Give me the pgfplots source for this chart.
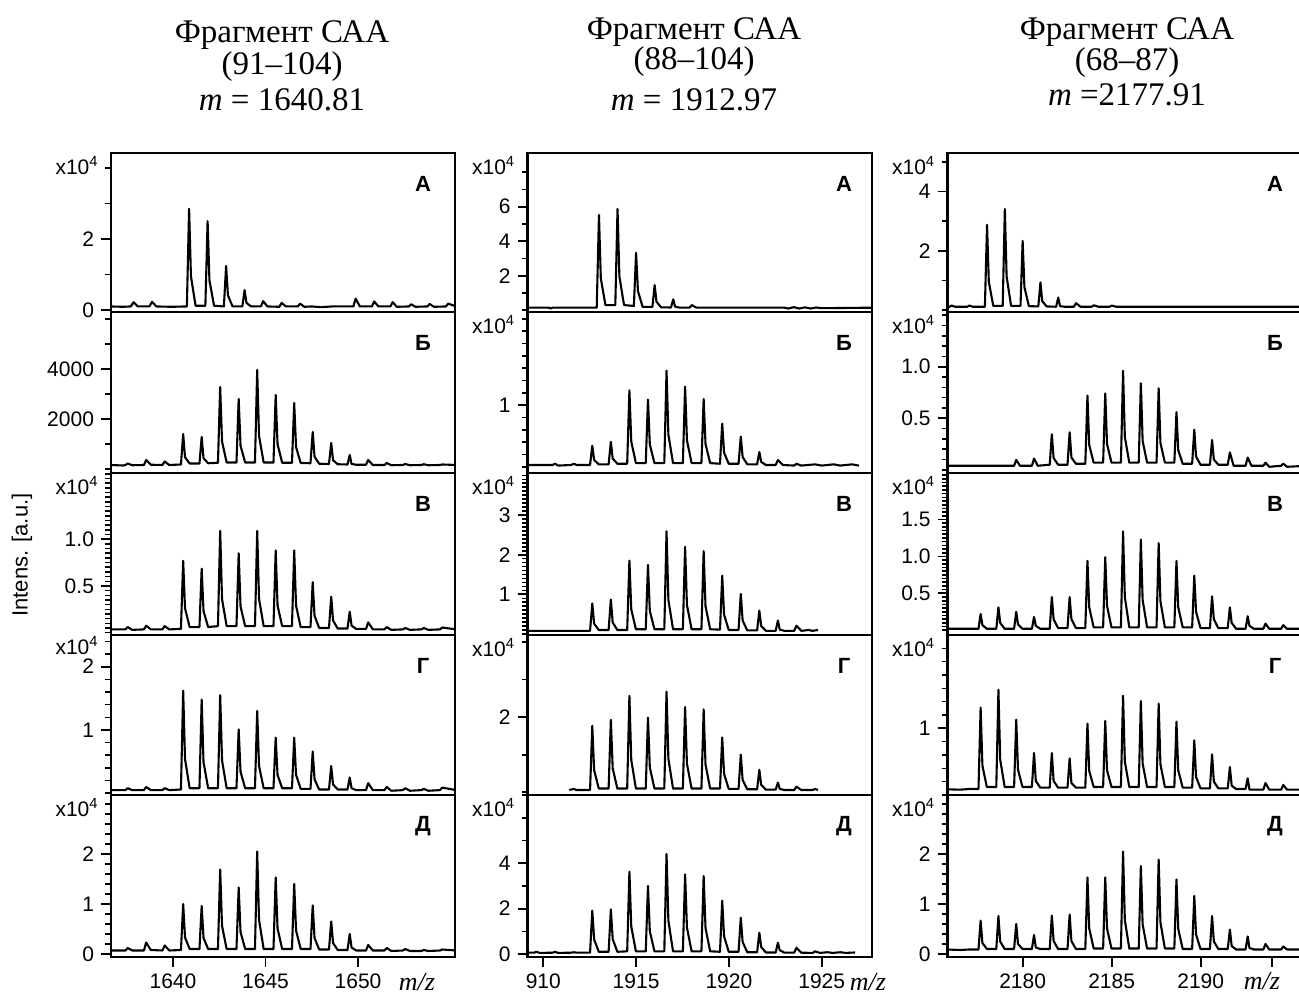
\documentclass[border=0pt]{standalone}
\usepackage{fontspec}
\setmainfont{Liberation Sans}
\newfontfamily\serif{Liberation Serif}
\usepackage{pgfplots}
\pgfplotsset{compat=1.18}
\newcommand\tickfont{\fontsize{10.5}{12}\selectfont}
\newcommand\letfont{\fontsize{11}{12}\selectfont\bfseries}
\newcommand\titlefont{\serif\fontsize{16.5}{18}\selectfont}
\tikzset{
  xpow/.style={anchor=east, xshift=-6pt, yshift=-6.5pt, font=\tickfont, inner sep=0pt},
  lett/.style={yshift=-15.5pt, font=\letfont, inner sep=0pt},
}
\pgfplotsset{
  spec/.style={
    scale only axis, scaled ticks=false,
    tick align=outside, tick pos=left,
    xtick=\empty,
    major tick length=5pt, minor tick length=2.8pt,
    every major tick/.append style={line width=0.9pt, black},
    every minor tick/.append style={line width=0.8pt, black},
    axis line style={line width=1.2pt},
    ticklabel style={font=\tickfont},
    clip mode=individual,
    no markers,
    every axis plot post/.append style={line width=1.05pt, black, mark=none, line join=round},
  },
  c1/.style={spec, width=172pt, xmin=1636.65, xmax=1655.24},
  c2/.style={spec, width=172.25pt, xmin=1909.15, xmax=1927.71},
  c3/.style={spec, width=178.75pt, xmin=2175.78, xmax=2195.86},
}
\begin{document}
\begin{tikzpicture}
\useasboundingbox (0,0) rectangle (649.5pt,497pt);
% titles
\node[font=\titlefont] at (141pt,479.5pt) {Фрагмент САА};
\node[font=\titlefont] at (141pt,463.5pt) {(91–104)};
\node[font=\titlefont] at (141pt,447pt) {{\itshape m} = 1640.81};
\node[font=\titlefont] at (347pt,481pt) {Фрагмент САА};
\node[font=\titlefont] at (347pt,466pt) {(88–104)};
\node[font=\titlefont] at (347pt,447pt) {{\itshape m} = 1912.97};
\node[font=\titlefont] at (563.5pt,481pt) {Фрагмент САА};
\node[font=\titlefont] at (563.5pt,465.5pt) {(68–87)};
\node[font=\titlefont] at (563.5pt,449.5pt) {{\itshape m} =2177.91};
\node[font=\fontsize{11}{13}\selectfont, rotate=90] at (11pt,219.5pt) {Intens. [a.u.]};
\node[font=\serif\itshape\fontsize{13}{15}\selectfont] at (208.5pt,6pt) {m/z};
\node[font=\serif\itshape\fontsize{13}{15}\selectfont] at (434pt,6pt) {m/z};
\node[font=\serif\itshape\fontsize{13}{15}\selectfont] at (631pt,6.5pt) {m/z};

%================ COLUMN 1 =================
\begin{axis}[c1, at={(55.5pt,341pt)}, height=79.5pt, ymin=-0.056, ymax=4.42,
  ytick={0,2}, yticklabels={0,2}, minor ytick={1,3,4}]
\addplot coordinates {(1636.6,0.1) (1637.3,0.09) (1637.72,0.1) (1637.87,0.22) (1638.1,0.1) (1638.72,0.1) (1638.87,0.23) (1639.1,0.1) (1639.9,0.09) (1640.75,0.1) (1640.87,2.85) (1640.97,0.95) (1641.22,0.12) (1641.75,0.12) (1641.87,2.5) (1641.97,0.83) (1642.22,0.12) (1642.75,0.1) (1642.87,1.24) (1642.97,0.41) (1643.22,0.1) (1643.75,0.1) (1643.87,0.56) (1643.97,0.2) (1644.22,0.1) (1644.75,0.1) (1644.87,0.25) (1645.1,0.1) (1645.75,0.09) (1645.87,0.2) (1646.1,0.1) (1646.75,0.1) (1646.87,0.18) (1647.1,0.09) (1647.5,0.1) (1648.0,0.08) (1648.6,0.1) (1649.75,0.1) (1649.87,0.32) (1650.1,0.1) (1650.75,0.1) (1650.87,0.24) (1651.1,0.1) (1651.75,0.1) (1651.87,0.22) (1652.1,0.09) (1652.75,0.1) (1652.87,0.16) (1653.1,0.09) (1653.75,0.1) (1653.87,0.17) (1654.1,0.09) (1654.75,0.1) (1654.87,0.18) (1655.3,0.1)};
\node[xpow] at (rel axis cs:0,1) {x10\textsuperscript{4}};
\node[lett, xshift=-16pt] at (rel axis cs:1,1) {А};
\end{axis}

\begin{axis}[c1, at={(55.5pt,260.5pt)}, height=80.5pt, ymin=-160, ymax=6280,
  ytick={2000,4000}, yticklabels={2000,4000}, minor ytick={0,1000,3000,5000,6000}]
\addplot coordinates {(1636.6,160) (1637.3,140) (1637.43,160) (1637.55,220) (1637.8,150) (1638.43,160) (1638.55,360) (1638.8,170) (1639.43,160) (1639.55,300) (1639.8,160) (1640.43,180) (1640.55,1400) (1640.65,470) (1640.9,220) (1641.43,220) (1641.55,1280) (1641.65,430) (1641.9,230) (1642.43,250) (1642.55,3280) (1642.65,1100) (1642.9,260) (1643.43,260) (1643.55,2800) (1643.65,930) (1643.9,260) (1644.43,260) (1644.55,3960) (1644.65,1320) (1644.9,260) (1645.43,260) (1645.55,2960) (1645.65,990) (1645.9,250) (1646.43,250) (1646.55,2640) (1646.65,880) (1646.9,240) (1647.43,230) (1647.55,1480) (1647.65,490) (1647.9,210) (1648.43,200) (1648.55,1040) (1648.65,350) (1648.9,190) (1649.43,180) (1649.55,560) (1649.65,200) (1649.9,170) (1650.43,170) (1650.55,360) (1650.8,160) (1651.43,160) (1651.55,240) (1651.8,150) (1652.43,160) (1652.55,200) (1652.8,150) (1653.43,160) (1653.55,190) (1653.8,150) (1654.43,160) (1654.55,180) (1655.3,160)};
\node[lett, xshift=-16pt] at (rel axis cs:1,1) {Б};
\end{axis}

\begin{axis}[c1, at={(55.5pt,179.5pt)}, height=81pt, ymin=-0.025, ymax=1.71,
  ytick={0.5,1.0}, yticklabels={0.5,1.0}, minor ytick={0,0.05,...,1.7}]
\addplot coordinates {(1636.6,0.035) (1637.43,0.035) (1637.55,0.06) (1637.8,0.03) (1638.43,0.035) (1638.55,0.075) (1638.8,0.035) (1639.43,0.035) (1639.55,0.07) (1639.8,0.035) (1640.43,0.04) (1640.55,0.77) (1640.65,0.26) (1640.9,0.06) (1641.43,0.06) (1641.55,0.685) (1641.65,0.23) (1641.9,0.06) (1642.43,0.07) (1642.55,1.09) (1642.65,0.36) (1642.9,0.07) (1643.43,0.07) (1643.55,0.85) (1643.65,0.28) (1643.9,0.07) (1644.43,0.07) (1644.55,1.09) (1644.65,0.36) (1644.9,0.07) (1645.43,0.07) (1645.55,0.88) (1645.65,0.29) (1645.9,0.07) (1646.43,0.07) (1646.55,0.88) (1646.65,0.29) (1646.9,0.06) (1647.43,0.06) (1647.55,0.54) (1647.65,0.18) (1647.9,0.05) (1648.43,0.05) (1648.55,0.385) (1648.65,0.13) (1648.9,0.045) (1649.43,0.045) (1649.55,0.225) (1649.65,0.075) (1649.9,0.04) (1650.43,0.04) (1650.55,0.11) (1650.8,0.035) (1651.43,0.035) (1651.55,0.06) (1651.8,0.03) (1652.43,0.035) (1652.55,0.05) (1652.8,0.03) (1653.43,0.035) (1653.55,0.05) (1653.8,0.03) (1654.43,0.035) (1654.55,0.055) (1655.3,0.035)};
\node[xpow] at (rel axis cs:0,1) {x10\textsuperscript{4}};
\node[lett, xshift=-16pt] at (rel axis cs:1,1) {В};
\end{axis}

\begin{axis}[c1, at={(55.5pt,99.5pt)}, height=80pt, ymin=-0.027, ymax=2.5,
  ytick={1,2}, yticklabels={1,2}, minor ytick={0,0.2,...,2.4}]
\addplot coordinates {(1636.6,0.05) (1637.43,0.05) (1637.55,0.08) (1637.8,0.05) (1638.43,0.05) (1638.55,0.1) (1638.8,0.05) (1639.43,0.05) (1639.55,0.08) (1639.8,0.05) (1640.43,0.06) (1640.55,1.62) (1640.65,0.54) (1640.9,0.08) (1641.43,0.08) (1641.55,1.48) (1641.65,0.49) (1641.9,0.08) (1642.43,0.08) (1642.55,1.55) (1642.65,0.52) (1642.9,0.08) (1643.43,0.08) (1643.55,1.01) (1643.65,0.34) (1643.9,0.08) (1644.43,0.08) (1644.55,1.30) (1644.65,0.43) (1644.9,0.08) (1645.43,0.08) (1645.55,0.88) (1645.65,0.29) (1645.9,0.08) (1646.43,0.08) (1646.55,0.88) (1646.65,0.29) (1646.9,0.07) (1647.43,0.07) (1647.55,0.66) (1647.65,0.22) (1647.9,0.06) (1648.43,0.06) (1648.55,0.43) (1648.65,0.14) (1648.9,0.06) (1649.43,0.06) (1649.55,0.25) (1649.65,0.08) (1649.9,0.05) (1650.43,0.05) (1650.55,0.16) (1650.8,0.05) (1651.43,0.05) (1651.55,0.1) (1651.8,0.04) (1652.43,0.05) (1652.55,0.08) (1652.8,0.04) (1653.43,0.05) (1653.55,0.07) (1653.8,0.04) (1654.43,0.05) (1654.55,0.09) (1655.3,0.05)};
\node[xpow, yshift=1pt] at (rel axis cs:0,1) {x10\textsuperscript{4}};
\node[lett, xshift=-16pt] at (rel axis cs:1,1) {Г};
\end{axis}

\begin{axis}[c1, at={(55.5pt,18.5pt)}, height=81pt, ymin=-0.06, ymax=3.18,
  ytick={0,1,2}, yticklabels={0,1,2}, minor ytick={0,0.2,...,3.0},
  xtick={1640,1645,1650}, xticklabels={1640,1645,1650}]
\addplot coordinates {(1636.6,0.07) (1637.43,0.07) (1637.55,0.12) (1637.8,0.07) (1638.43,0.07) (1638.55,0.23) (1638.8,0.08) (1639.43,0.07) (1639.55,0.17) (1639.8,0.07) (1640.43,0.08) (1640.55,1.0) (1640.65,0.33) (1640.9,0.1) (1641.43,0.1) (1641.55,0.96) (1641.65,0.32) (1641.9,0.1) (1642.43,0.1) (1642.55,1.69) (1642.65,0.56) (1642.9,0.1) (1643.43,0.1) (1643.55,1.33) (1643.65,0.44) (1643.9,0.1) (1644.43,0.1) (1644.55,2.05) (1644.65,0.68) (1644.9,0.1) (1645.43,0.1) (1645.55,1.53) (1645.65,0.51) (1645.9,0.1) (1646.43,0.1) (1646.55,1.40) (1646.65,0.47) (1646.9,0.1) (1647.43,0.1) (1647.55,0.97) (1647.65,0.32) (1647.9,0.09) (1648.43,0.09) (1648.55,0.65) (1648.65,0.22) (1648.9,0.08) (1649.43,0.08) (1649.55,0.4) (1649.65,0.13) (1649.9,0.07) (1650.43,0.07) (1650.55,0.18) (1650.8,0.07) (1651.43,0.07) (1651.55,0.12) (1651.8,0.06) (1652.43,0.07) (1652.55,0.1) (1652.8,0.06) (1653.43,0.06) (1653.55,0.08) (1653.8,0.06) (1654.43,0.07) (1654.55,0.09) (1655.3,0.07)};
\node[xpow] at (rel axis cs:0,1) {x10\textsuperscript{4}};
\node[lett, xshift=-16pt] at (rel axis cs:1,1) {Д};
\end{axis}

%================ COLUMN 2 =================
\begin{axis}[c2, at={(263.75pt,341pt)}, height=79.5pt, ymin=-0.1, ymax=9.11,
  ytick={2,4,6}, yticklabels={2,4,6}, minor ytick={0,1,3,5,7,8}]
\addplot coordinates {(1909.1,0.15) (1910.3,0.15) (1910.4,0.1) (1910.5,0.15) (1912.88,0.15) (1913.0,5.52) (1913.1,1.84) (1913.35,0.3) (1913.88,0.3) (1914.0,5.87) (1914.1,1.96) (1914.35,0.3) (1914.88,0.25) (1915.0,3.33) (1915.1,1.11) (1915.35,0.2) (1915.88,0.2) (1916.0,1.46) (1916.1,0.49) (1916.35,0.17) (1916.88,0.16) (1917.0,0.63) (1917.1,0.21) (1917.35,0.15) (1917.88,0.15) (1918.0,0.3) (1918.25,0.15) (1923.0,0.15) (1923.2,0.1) (1923.5,0.18) (1923.8,0.1) (1924.1,0.17) (1924.4,0.1) (1924.7,0.16) (1925.0,0.12) (1927.8,0.15)};
\node[xpow] at (rel axis cs:0,1) {x10\textsuperscript{4}};
\node[lett, xshift=-14pt] at (rel axis cs:1,1) {А};
\end{axis}

\begin{axis}[c2, at={(263.75pt,260.5pt)}, height=80.5pt, ymin=-0.1, ymax=2.51,
  ytick={1}, yticklabels={1}, minor ytick={0,0.2,...,2.4}]
\addplot coordinates {(1909.1,0.03) (1910.5,0.03) (1910.64,0.05) (1910.8,0.02) (1911.5,0.03) (1911.64,0.05) (1911.8,0.03) (1912.52,0.03) (1912.64,0.34) (1912.74,0.11) (1912.99,0.04) (1913.52,0.04) (1913.64,0.405) (1913.74,0.135) (1913.99,0.05) (1914.52,0.05) (1914.64,1.24) (1914.74,0.41) (1914.99,0.06) (1915.52,0.06) (1915.64,1.09) (1915.74,0.36) (1915.99,0.06) (1916.52,0.06) (1916.64,1.56) (1916.74,0.52) (1916.99,0.06) (1917.52,0.06) (1917.64,1.30) (1917.74,0.43) (1917.99,0.06) (1918.52,0.06) (1918.64,1.10) (1918.74,0.37) (1918.99,0.06) (1919.52,0.05) (1919.64,0.70) (1919.74,0.23) (1919.99,0.05) (1920.52,0.05) (1920.64,0.49) (1920.74,0.16) (1920.99,0.04) (1921.52,0.04) (1921.64,0.24) (1921.74,0.08) (1921.99,0.03) (1922.52,0.03) (1922.64,0.11) (1922.9,0.03) (1923.52,0.02) (1923.64,0.05) (1923.9,0.02) (1924.64,0.04) (1925.0,0.02) (1925.64,0.04) (1926.0,0.02) (1926.64,0.04) (1927.0,0.02)};
\node[xpow] at (rel axis cs:0,1) {x10\textsuperscript{4}};
\node[lett, xshift=-14pt] at (rel axis cs:1,1) {Б};
\end{axis}

\begin{axis}[c2, at={(263.75pt,179.5pt)}, height=81pt, ymin=-0.025, ymax=4.06,
  ytick={1,2,3}, yticklabels={1,2,3}, minor ytick={0,0.1,...,4.0}]
\addplot coordinates {(1909.1,0.08) (1912.52,0.08) (1912.64,0.77) (1912.74,0.26) (1912.99,0.1) (1913.52,0.1) (1913.64,0.87) (1913.74,0.29) (1913.99,0.1) (1914.52,0.1) (1914.64,1.85) (1914.74,0.62) (1914.99,0.12) (1915.52,0.12) (1915.64,1.74) (1915.74,0.58) (1915.99,0.12) (1916.52,0.12) (1916.64,2.59) (1916.74,0.86) (1916.99,0.12) (1917.52,0.12) (1917.64,2.20) (1917.74,0.73) (1917.99,0.12) (1918.52,0.12) (1918.64,2.09) (1918.74,0.70) (1918.99,0.12) (1919.52,0.11) (1919.64,1.47) (1919.74,0.49) (1919.99,0.1) (1920.52,0.1) (1920.64,1.01) (1920.74,0.34) (1920.99,0.09) (1921.52,0.09) (1921.64,0.59) (1921.74,0.2) (1921.99,0.08) (1922.52,0.08) (1922.64,0.34) (1922.74,0.11) (1922.99,0.08) (1923.52,0.08) (1923.64,0.21) (1923.9,0.08) (1924.3,0.1) (1924.5,0.08) (1924.8,0.1)};
\node[xpow] at (rel axis cs:0,1) {x10\textsuperscript{4}};
\node[lett, xshift=-14pt] at (rel axis cs:1,1) {В};
\end{axis}

\begin{axis}[c2, at={(263.75pt,99.5pt)}, height=80pt, ymin=-0.072, ymax=4.19,
  ytick={2}, yticklabels={2}, minor ytick={0,1,3,4}]
\addplot coordinates {(1911.4,0.06) (1911.64,0.09) (1911.8,0.06) (1912.52,0.06) (1912.64,1.77) (1912.74,0.59) (1912.99,0.1) (1913.52,0.1) (1913.64,1.93) (1913.74,0.64) (1913.99,0.1) (1914.52,0.1) (1914.64,2.57) (1914.74,0.86) (1914.99,0.1) (1915.52,0.1) (1915.64,1.99) (1915.74,0.66) (1915.99,0.1) (1916.52,0.1) (1916.64,2.68) (1916.74,0.89) (1916.99,0.1) (1917.52,0.1) (1917.64,2.27) (1917.74,0.76) (1917.99,0.1) (1918.52,0.1) (1918.64,2.21) (1918.74,0.74) (1918.99,0.1) (1919.52,0.1) (1919.64,1.46) (1919.74,0.49) (1919.99,0.09) (1920.52,0.09) (1920.64,1.0) (1920.74,0.33) (1920.99,0.08) (1921.52,0.08) (1921.64,0.6) (1921.74,0.2) (1921.99,0.07) (1922.52,0.07) (1922.64,0.26) (1922.74,0.09) (1922.99,0.06) (1923.52,0.06) (1923.64,0.15) (1923.9,0.06) (1924.52,0.06) (1924.64,0.09) (1924.8,0.06)};
\node[xpow] at (rel axis cs:0,1) {x10\textsuperscript{4}};
\node[lett, xshift=-14pt] at (rel axis cs:1,1) {Г};
\end{axis}

\begin{axis}[c2, at={(263.75pt,18.5pt)}, height=81pt, ymin=-0.13, ymax=7.01,
  ytick={0,2,4}, yticklabels={0,2,4}, minor ytick={1,3,5,6,7},
  xtick={1910,1915,1920,1925}, xticklabels={910,1915,1920,1925}]
\addplot coordinates {(1909.1,0.06) (1909.5,0.06) (1909.64,0.1) (1909.8,0.05) (1910.5,0.06) (1910.64,0.1) (1910.8,0.05) (1911.5,0.06) (1911.64,0.08) (1911.8,0.06) (1912.52,0.06) (1912.64,1.91) (1912.74,0.64) (1912.99,0.1) (1913.52,0.1) (1913.64,1.97) (1913.74,0.66) (1913.99,0.1) (1914.52,0.12) (1914.64,3.63) (1914.74,1.21) (1914.99,0.12) (1915.52,0.12) (1915.64,3.0) (1915.74,1.0) (1915.99,0.12) (1916.52,0.12) (1916.64,4.41) (1916.74,1.47) (1916.99,0.12) (1917.52,0.12) (1917.64,3.51) (1917.74,1.17) (1917.99,0.12) (1918.52,0.12) (1918.64,3.44) (1918.74,1.15) (1918.99,0.12) (1919.52,0.1) (1919.64,2.35) (1919.74,0.78) (1919.99,0.1) (1920.52,0.1) (1920.64,1.6) (1920.74,0.53) (1920.99,0.08) (1921.52,0.08) (1921.64,0.94) (1921.74,0.31) (1921.99,0.07) (1922.52,0.07) (1922.64,0.5) (1922.74,0.17) (1922.99,0.06) (1923.52,0.06) (1923.64,0.28) (1923.9,0.06) (1924.52,0.05) (1924.64,0.12) (1924.9,0.05) (1925.3,0.08) (1925.6,0.05) (1926.0,0.08) (1926.3,0.05) (1926.8,0.07)};
\node[xpow] at (rel axis cs:0,1) {x10\textsuperscript{4}};
\node[lett, xshift=-14pt] at (rel axis cs:1,1) {Д};
\end{axis}

%================ COLUMN 3 =================
\begin{axis}[c3, at={(473.75pt,341pt)}, height=79.5pt, ymin=-0.057, ymax=5.3,
  ytick={2,4}, yticklabels={2,4}, minor ytick={0,1,3,5}]
\addplot coordinates {(2175.7,0.12) (2175.9,0.12) (2176.0,0.16) (2176.2,0.12) (2176.9,0.12) (2177.0,0.16) (2177.2,0.12) (2177.88,0.12) (2178.0,2.88) (2178.1,0.96) (2178.35,0.15) (2178.88,0.15) (2179.0,3.41) (2179.1,1.14) (2179.35,0.15) (2179.88,0.15) (2180.0,2.34) (2180.1,0.78) (2180.35,0.14) (2180.88,0.13) (2181.0,0.94) (2181.1,0.31) (2181.35,0.13) (2181.88,0.12) (2182.0,0.43) (2182.1,0.14) (2182.35,0.12) (2182.88,0.12) (2183.0,0.24) (2183.25,0.12) (2183.88,0.12) (2184.0,0.17) (2184.25,0.12) (2184.88,0.12) (2185.0,0.16) (2185.25,0.12) (2196,0.12)};
\node[xpow] at (rel axis cs:0,1) {x10\textsuperscript{4}};
\node[lett, xshift=-15pt] at (rel axis cs:1,1) {А};
\end{axis}

\begin{axis}[c3, at={(473.75pt,260.5pt)}, height=80.5pt, ymin=-0.03, ymax=1.53,
  ytick={0.5,1.0}, yticklabels={0.5,1.0}, minor ytick={0,0.1,...,1.5}]
\addplot coordinates {(2175.7,0.04) (2179.52,0.04) (2179.64,0.097) (2179.85,0.04) (2180.52,0.04) (2180.64,0.11) (2180.85,0.04) (2181.52,0.05) (2181.64,0.345) (2181.74,0.115) (2181.99,0.05) (2182.52,0.05) (2182.64,0.365) (2182.74,0.12) (2182.99,0.06) (2183.52,0.06) (2183.64,0.72) (2183.74,0.24) (2183.99,0.07) (2184.52,0.07) (2184.64,0.74) (2184.74,0.25) (2184.99,0.07) (2185.52,0.07) (2185.64,0.96) (2185.74,0.32) (2185.99,0.07) (2186.52,0.07) (2186.64,0.84) (2186.74,0.28) (2186.99,0.07) (2187.52,0.07) (2187.64,0.79) (2187.74,0.26) (2187.99,0.07) (2188.52,0.07) (2188.64,0.56) (2188.74,0.19) (2188.99,0.06) (2189.52,0.06) (2189.64,0.39) (2189.74,0.13) (2189.99,0.05) (2190.52,0.05) (2190.64,0.29) (2190.74,0.1) (2190.99,0.05) (2191.52,0.05) (2191.64,0.17) (2191.85,0.04) (2192.52,0.04) (2192.64,0.12) (2192.85,0.04) (2193.52,0.04) (2193.64,0.07) (2193.85,0.03) (2194.52,0.04) (2194.64,0.06) (2194.85,0.03) (2196,0.04)};
\node[xpow] at (rel axis cs:0,1) {x10\textsuperscript{4}};
\node[lett, xshift=-15pt] at (rel axis cs:1,1) {Б};
\end{axis}

\begin{axis}[c3, at={(473.75pt,179.5pt)}, height=81pt, ymin=-0.064, ymax=2.13,
  ytick={0.5,1.0,1.5}, yticklabels={0.5,1.0,1.5}, minor ytick={0,0.05,...,2.1}]
\addplot coordinates {(2175.7,0.02) (2177.2,0.02) (2177.52,0.02) (2177.64,0.22) (2177.74,0.07) (2177.99,0.02) (2178.52,0.02) (2178.64,0.31) (2178.74,0.1) (2178.99,0.02) (2179.52,0.02) (2179.64,0.25) (2179.74,0.08) (2179.99,0.02) (2180.52,0.02) (2180.64,0.18) (2180.74,0.06) (2180.99,0.02) (2181.52,0.02) (2181.64,0.45) (2181.74,0.15) (2181.99,0.03) (2182.52,0.03) (2182.64,0.45) (2182.74,0.15) (2182.99,0.03) (2183.52,0.03) (2183.64,0.94) (2183.74,0.31) (2183.99,0.04) (2184.52,0.04) (2184.64,0.99) (2184.74,0.33) (2184.99,0.04) (2185.52,0.04) (2185.64,1.34) (2185.74,0.45) (2185.99,0.04) (2186.52,0.04) (2186.64,1.23) (2186.74,0.41) (2186.99,0.04) (2187.52,0.04) (2187.64,1.18) (2187.74,0.39) (2187.99,0.04) (2188.52,0.04) (2188.64,0.94) (2188.74,0.31) (2188.99,0.04) (2189.52,0.04) (2189.64,0.74) (2189.74,0.25) (2189.99,0.03) (2190.52,0.03) (2190.64,0.46) (2190.74,0.15) (2190.99,0.03) (2191.52,0.03) (2191.64,0.31) (2191.74,0.1) (2191.99,0.02) (2192.52,0.02) (2192.64,0.19) (2192.74,0.06) (2192.99,0.02) (2193.52,0.02) (2193.64,0.09) (2193.85,0.02) (2194.52,0.02) (2194.64,0.07) (2194.85,0.02) (2196,0.02)};
\node[xpow] at (rel axis cs:0,1) {x10\textsuperscript{4}};
\node[lett, xshift=-15pt] at (rel axis cs:1,1) {В};
\end{axis}

\begin{axis}[c3, at={(473.75pt,99.5pt)}, height=80pt, ymin=0, ymax=2.4,
  ytick={1}, yticklabels={1}, minor ytick={0,0.2,...,2.2}]
\addplot coordinates {(2175.7,0.085) (2176.5,0.08) (2177.0,0.09) (2177.52,0.09) (2177.64,1.31) (2177.74,0.44) (2177.99,0.12) (2178.52,0.12) (2178.64,1.58) (2178.74,0.53) (2178.99,0.12) (2179.52,0.12) (2179.64,1.13) (2179.74,0.38) (2179.99,0.12) (2180.52,0.12) (2180.64,0.63) (2180.74,0.21) (2180.99,0.11) (2181.52,0.11) (2181.64,0.63) (2181.74,0.21) (2181.99,0.11) (2182.52,0.11) (2182.64,0.55) (2182.74,0.18) (2182.99,0.11) (2183.52,0.11) (2183.64,1.07) (2183.74,0.36) (2183.99,0.12) (2184.52,0.12) (2184.64,1.11) (2184.74,0.37) (2184.99,0.12) (2185.52,0.12) (2185.64,1.49) (2185.74,0.5) (2185.99,0.12) (2186.52,0.12) (2186.64,1.41) (2186.74,0.47) (2186.99,0.12) (2187.52,0.12) (2187.64,1.37) (2187.74,0.46) (2187.99,0.12) (2188.52,0.12) (2188.64,1.10) (2188.74,0.37) (2188.99,0.11) (2189.52,0.11) (2189.64,0.82) (2189.74,0.27) (2189.99,0.1) (2190.52,0.1) (2190.64,0.61) (2190.74,0.2) (2190.99,0.1) (2191.52,0.1) (2191.64,0.42) (2191.74,0.14) (2191.99,0.09) (2192.52,0.09) (2192.64,0.25) (2192.74,0.08) (2192.99,0.08) (2193.52,0.08) (2193.64,0.18) (2193.85,0.08) (2194.52,0.08) (2194.64,0.15) (2194.85,0.08) (2196,0.08)};
\node[xpow] at (rel axis cs:0,1) {x10\textsuperscript{4}};
\node[lett, xshift=-15pt] at (rel axis cs:1,1) {Г};
\end{axis}

\begin{axis}[c3, at={(473.75pt,18.5pt)}, height=81pt, ymin=-0.06, ymax=3.18,
  ytick={0,1,2}, yticklabels={0,1,2}, minor ytick={0,0.2,...,3.0},
  xtick={2180,2185,2190,2194}, xticklabels={2180,2185,2190,{}}]
\addplot coordinates {(2175.7,0.09) (2176.5,0.08) (2177.0,0.09) (2177.52,0.09) (2177.64,0.67) (2177.74,0.22) (2177.99,0.1) (2178.52,0.1) (2178.64,0.76) (2178.74,0.25) (2178.99,0.1) (2179.52,0.1) (2179.64,0.6) (2179.74,0.2) (2179.99,0.1) (2180.52,0.1) (2180.64,0.38) (2180.74,0.13) (2180.99,0.1) (2181.52,0.1) (2181.64,0.77) (2181.74,0.26) (2181.99,0.1) (2182.52,0.1) (2182.64,0.79) (2182.74,0.26) (2182.99,0.1) (2183.52,0.1) (2183.64,1.53) (2183.74,0.51) (2183.99,0.11) (2184.52,0.11) (2184.64,1.53) (2184.74,0.51) (2184.99,0.11) (2185.52,0.11) (2185.64,2.05) (2185.74,0.68) (2185.99,0.11) (2186.52,0.11) (2186.64,1.76) (2186.74,0.59) (2186.99,0.11) (2187.52,0.11) (2187.64,1.89) (2187.74,0.63) (2187.99,0.11) (2188.52,0.11) (2188.64,1.49) (2188.74,0.5) (2188.99,0.1) (2189.52,0.1) (2189.64,1.16) (2189.74,0.39) (2189.99,0.1) (2190.52,0.1) (2190.64,0.76) (2190.74,0.25) (2190.99,0.1) (2191.52,0.1) (2191.64,0.49) (2191.74,0.16) (2191.99,0.09) (2192.52,0.09) (2192.64,0.35) (2192.74,0.12) (2192.99,0.09) (2193.52,0.09) (2193.64,0.2) (2193.85,0.09) (2194.52,0.09) (2194.64,0.15) (2194.85,0.09) (2196,0.09)};
\node[xpow] at (rel axis cs:0,1) {x10\textsuperscript{4}};
\node[lett, xshift=-15pt] at (rel axis cs:1,1) {Д};
\end{axis}
\end{tikzpicture}
\end{document}
